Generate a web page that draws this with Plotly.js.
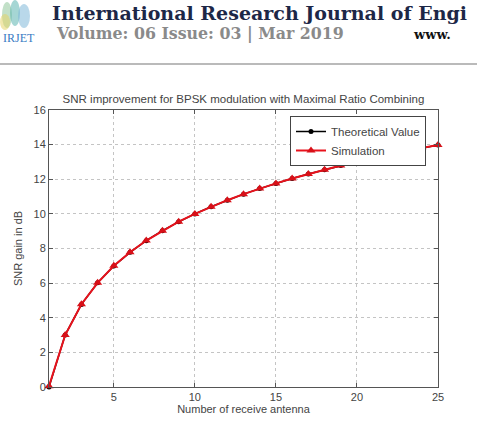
<!DOCTYPE html>
<html>
<head>
<meta charset="utf-8">
<script src="https://cdn.plot.ly/plotly-3.0.1.min.js"></script>
<style>
html,body{margin:0;padding:0;background:#fff;}
#chart{width:477px;height:422px;}
</style>
</head>
<body>
<div id="chart"></div>
<script>
// Data
const antennas = [1,2,3,4,5,6,7,8,9,10,11,12,13,14,15,16,17,18,19,20,21,22,23,24,25];
const theoretical = [0, 3.01, 4.77, 6.02, 6.99, 7.78, 8.45, 9.03, 9.54, 10.00, 10.41, 10.79, 11.14, 11.46, 11.76, 12.04, 12.30, 12.55, 12.79, 13.01, 13.22, 13.42, 13.62, 13.80, 13.98];
const simulation  = [0.05, 3.0, 4.78, 6.02, 7.0, 7.78, 8.46, 9.03, 9.55, 10.0, 10.41, 10.79, 11.14, 11.46, 11.76, 12.04, 12.3, 12.55, 12.79, 13.01, 13.22, 13.42, 13.62, 13.8, 13.98];
const xTicks = [5,10,15,20,25];
const yTicks = [0,2,4,6,8,10,12,14,16];

const W = 477, H = 422;
const L = 49, R = 438, T = 110, B = 387;
const px = x => (x - L) / (R - L);
const py = y => (B - y) / (B - T);

const traces = [
  {x: antennas, y: theoretical, name: 'Theoretical Value', mode: 'lines+markers',
   line: {color: '#000', width: 1.5}, marker: {color: '#000', symbol: 'circle', size: 5}, cliponaxis: false},
  {x: antennas, y: simulation, name: 'Simulation', mode: 'lines+markers',
   line: {color: '#e8121c', width: 2}, marker: {color: '#d81018', symbol: 'triangle-up', size: 8}, cliponaxis: false}
];

const axisFont = {family: 'Liberation Sans, Arial, sans-serif', size: 11, color: '#444'};
const leaf = (x0, y0, x1, y1, c) => ({type: 'circle', xref: 'paper', yref: 'paper',
  x0: px(x0), x1: px(x1), y0: py(y1), y1: py(y0), fillcolor: c, line: {width: 0}, opacity: 0.55});
const layout = {
  width: W, height: H,
  margin: {l: L, r: W - R, t: T, b: H - B, pad: 0},
  paper_bgcolor: '#fff', plot_bgcolor: '#fff',
  showlegend: true,
  title: {text: 'SNR improvement for BPSK modulation with Maximal Ratio Combining',
          font: {family: 'Liberation Sans, Arial, sans-serif', size: 11.5, color: '#444'},
          x: 0.5, xref: 'paper', y: 1 - 99 / H, yanchor: 'middle'},
  xaxis: {range: [1, 25], tickvals: xTicks, ticks: 'inside', ticklen: 4, tickcolor: '#555',
          showline: true, linecolor: '#555', linewidth: 1, mirror: 'ticks', zeroline: false,
          showgrid: true, gridcolor: '#c4c4c4', griddash: 'dot', gridwidth: 1,
          tickfont: axisFont,
          title: {text: 'Number of receive antenna', font: axisFont, standoff: 3}},
  yaxis: {range: [0, 16], tickvals: yTicks, ticks: 'inside', ticklen: 4, tickcolor: '#555',
          showline: true, linecolor: '#555', linewidth: 1, mirror: 'ticks', zeroline: false,
          showgrid: true, gridcolor: '#c4c4c4', griddash: 'dot', gridwidth: 1,
          tickfont: axisFont,
          title: {text: 'SNR gain in dB', font: axisFont, standoff: 8}},
  legend: {x: px(290), y: py(116), xanchor: 'left', yanchor: 'top',
           bgcolor: '#fff', bordercolor: '#444', borderwidth: 1,
           font: {family: 'Liberation Sans, Arial, sans-serif', size: 11.5, color: '#444'},
           tracegroupgap: 0, itemwidth: 30},
  shapes: [
    {type: 'line', xref: 'paper', yref: 'paper', x0: px(0), x1: px(W), y0: py(64), y1: py(64),
     line: {color: '#777', width: 1.2}},
    leaf(2, 2, 12, 28, '#8fc79a'),
    leaf(10, 0, 20, 26, '#5bb5b0'),
    leaf(18, 4, 30, 28, '#7fb8d8'),
    leaf(0, 14, 10, 30, '#e6d46a')
  ],
  annotations: [
    {text: '<b>International Research Journal of Engi</b>',
     xref: 'paper', yref: 'paper', x: px(50), y: py(13), xanchor: 'left', yanchor: 'middle',
     showarrow: false, font: {family: 'DejaVu Serif, serif', size: 19, color: '#1d2747'}},
    {text: '<b>Volume: 06 Issue: 03 | Mar 2019</b>',
     xref: 'paper', yref: 'paper', x: px(54), y: py(33), xanchor: 'left', yanchor: 'middle',
     showarrow: false, font: {family: 'DejaVu Serif, serif', size: 15.8, color: '#8a8a8a'}},
    {text: '<b>www.</b>',
     xref: 'paper', yref: 'paper', x: px(411), y: py(34), xanchor: 'left', yanchor: 'middle',
     showarrow: false, font: {family: 'DejaVu Serif, serif', size: 13, color: '#111'}},
    {text: 'IRJET',
     xref: 'paper', yref: 'paper', x: px(1), y: py(38), xanchor: 'left', yanchor: 'middle',
     showarrow: false, font: {family: 'Liberation Serif, serif', size: 12, color: '#3a7cc4'}}
  ]
};

Plotly.newPlot('chart', traces, layout, {displayModeBar: false, staticPlot: true});
</script>
</body>
</html>
